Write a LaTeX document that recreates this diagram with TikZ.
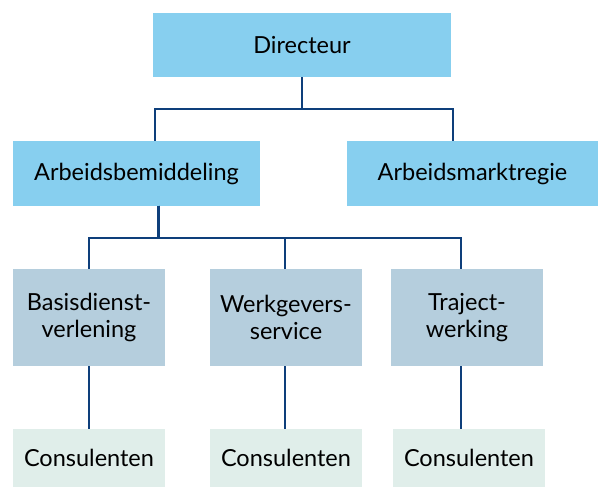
\documentclass[tikz,border=0pt]{standalone}
\usepackage{fontspec}
\setmainfont{Lato}
\usepackage{tikz}

\definecolor{topblue}{HTML}{87CFEF}
\definecolor{midblue}{HTML}{B5CEDD}
\definecolor{lowgreen}{HTML}{E0EEEA}
\definecolor{linenavy}{HTML}{0E3F7B}

\tikzset{
  box/.style={rectangle, inner sep=0pt, align=center, text=black,
    font=\fontsize{23.5}{27}\selectfont},
  topbox/.style={box, fill=topblue, minimum height=64pt},
  unitbox/.style={box, fill=midblue, minimum width=152pt, minimum height=97pt},
  staffbox/.style={box, fill=lowgreen, minimum width=152pt, minimum height=58pt},
  wire/.style={draw=linenavy, line width=2.4pt}
}

\begin{document}
\begin{tikzpicture}[x=1pt,y=1pt]

\useasboundingbox (0,0) rectangle (598,-487);

\node [topbox, minimum width=298pt] (dir) at (302,-45) {Directeur};
\node [topbox, minimum width=247pt] (abm) at (136.5,-173.5) {Arbeidsbemiddeling};
\node [topbox, minimum width=251pt] (amr) at (472.5,-173.5) {Arbeidsmarktregie};

\node [unitbox] (bdv) at (89,-317.5) {Basisdienst-\\verlening};
\node [unitbox] (wgs) at (286,-317.5) {Werkgevers-\\service};
\node [unitbox] (trw) at (467,-317.5) {Traject-\\werking};

\node [staffbox] (con1) at (89,-458) {Consulenten};
\node [staffbox] (con2) at (286,-458) {Consulenten};
\node [staffbox] (con3) at (469,-458) {Consulenten};

\draw[wire] (dir.south) -- ++(0,-32) -| ([xshift=18.5pt]abm.north);
\draw[wire] (dir.south) -- ++(0,-32) -| ([xshift=-19.5pt]amr.north);

\draw[wire] ([xshift=22pt]abm.south) -- ++(0,-32) -| (bdv.north);
\draw[wire] ([xshift=22pt]abm.south) -- ++(0,-32) -| ([xshift=-1pt]wgs.north);
\draw[wire] ([xshift=22pt]abm.south) -- ++(0,-32) -| ([xshift=-6pt]trw.north);

\draw[wire] (bdv.south) -- (con1.north);
\draw[wire] ([xshift=-1pt]wgs.south) -- ([xshift=-1pt]con2.north);
\draw[wire] ([xshift=-6pt]trw.south) -- ([xshift=-8pt]con3.north);

\end{tikzpicture}
\end{document}
